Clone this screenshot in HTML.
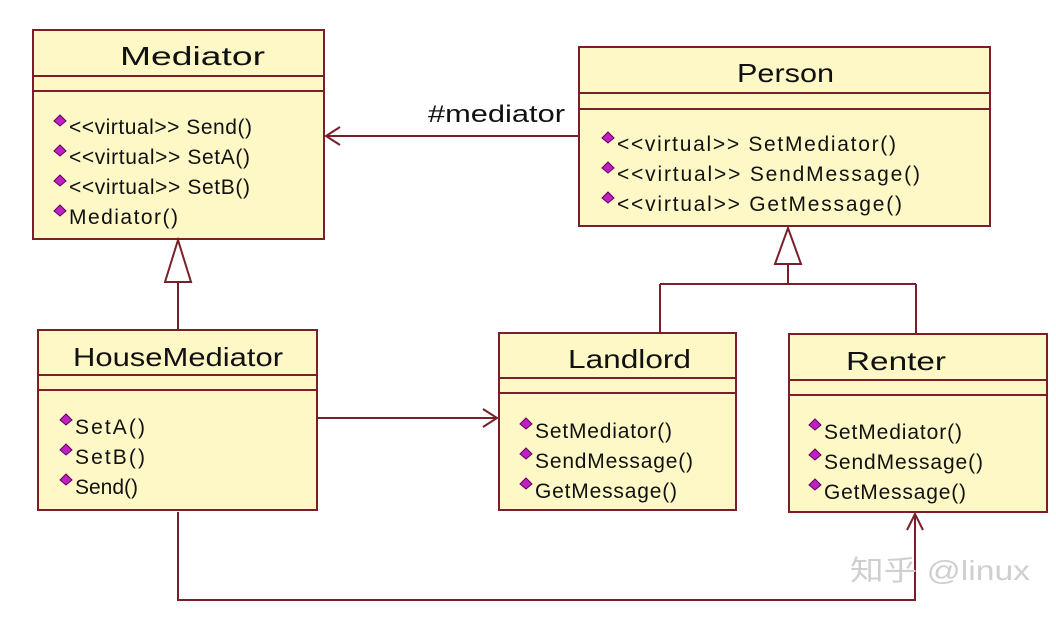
<!DOCTYPE html>
<html><head><meta charset="utf-8"><style>
html,body{margin:0;padding:0;background:#fff;width:1056px;height:619px;overflow:hidden}
svg text{font-family:"Liberation Sans","Noto Sans CJK SC",sans-serif;fill:#111}
</style></head><body>
<svg width="1056" height="619" xmlns="http://www.w3.org/2000/svg">
<defs>
<g id="d"><path d="M0,-6 L6,0 L0,5 L-6,0 Z" fill="#c020c0" stroke="#600060" stroke-width="1"/></g>
</defs>
<g stroke="#7a1f2a" stroke-width="2" fill="#fdf8c6">
<rect x="33" y="30" width="291" height="209"/>
<rect x="579" y="47" width="411" height="179"/>
<rect x="38" y="330" width="279" height="180"/>
<rect x="499" y="333" width="237" height="177"/>
<rect x="789" y="334" width="258" height="178"/>
</g>
<g stroke="#7a1f2a" stroke-width="2" fill="none">
<path d="M33,76H324M33,91H324"/>
<path d="M579,93H990M579,109H990"/>
<path d="M38,375H317M38,390H317"/>
<path d="M499,378H736M499,393H736"/>
<path d="M789,380H1047M789,395H1047"/>
<path d="M579,136H326M340,127L326,136L340,145"/>
<path d="M178,282V330"/><path d="M178,240L165,282H191Z" fill="#fff"/>
<path d="M788,264V284M660,284H916M660,284V333M916,284V334"/><path d="M788,228L775,264H801Z" fill="#fff"/>
<path d="M317,418H497M483,409L497,418L483,427"/>
<path d="M178,512V600H915V514M907,530L915,514L923,530"/>
</g>
<text x="428" y="122" font-size="24" textLength="137" lengthAdjust="spacingAndGlyphs">#mediator</text>
<g font-size="26">
<text x="120" y="65" textLength="145" lengthAdjust="spacingAndGlyphs">Mediator</text>
<text x="737" y="82" textLength="97" lengthAdjust="spacingAndGlyphs">Person</text>
<text x="73" y="366" textLength="210" lengthAdjust="spacingAndGlyphs">HouseMediator</text>
<text x="568" y="368" textLength="123" lengthAdjust="spacingAndGlyphs">Landlord</text>
<text x="846" y="370" textLength="100" lengthAdjust="spacingAndGlyphs">Renter</text>
</g>
<g font-size="21" lengthAdjust="spacingAndGlyphs">
<use href="#d" x="60" y="121"/><text x="69" y="134" textLength="183">&lt;&lt;virtual&gt;&gt; Send()</text>
<use href="#d" x="60" y="151"/><text x="69" y="164" textLength="181">&lt;&lt;virtual&gt;&gt; SetA()</text>
<use href="#d" x="60" y="181"/><text x="69" y="194" textLength="181">&lt;&lt;virtual&gt;&gt; SetB()</text>
<use href="#d" x="60" y="211"/><text x="69" y="224" textLength="109">Mediator()</text>

<use href="#d" x="608" y="138"/><text x="617" y="151" textLength="279">&lt;&lt;virtual&gt;&gt; SetMediator()</text>
<use href="#d" x="608" y="168"/><text x="617" y="181" textLength="303">&lt;&lt;virtual&gt;&gt; SendMessage()</text>
<use href="#d" x="608" y="198"/><text x="617" y="211" textLength="285">&lt;&lt;virtual&gt;&gt; GetMessage()</text>

<use href="#d" x="66" y="420"/><text x="75" y="434" textLength="70">SetA()</text>
<use href="#d" x="66" y="450"/><text x="75" y="464" textLength="70">SetB()</text>
<use href="#d" x="66" y="480"/><text x="75" y="494" textLength="63">Send()</text>

<use href="#d" x="526" y="424"/><text x="535" y="438" textLength="137">SetMediator()</text>
<use href="#d" x="526" y="454"/><text x="535" y="468" textLength="158">SendMessage()</text>
<use href="#d" x="526" y="484"/><text x="535" y="498" textLength="142">GetMessage()</text>

<use href="#d" x="815" y="425"/><text x="824" y="439" textLength="138">SetMediator()</text>
<use href="#d" x="815" y="455"/><text x="824" y="469" textLength="159">SendMessage()</text>
<use href="#d" x="815" y="485"/><text x="824" y="499" textLength="142">GetMessage()</text>
</g>
<text x="850" y="580" font-size="28" textLength="180" lengthAdjust="spacingAndGlyphs" style="fill:#cfcfcf">知乎 @linux</text>
</svg>
</body></html>
